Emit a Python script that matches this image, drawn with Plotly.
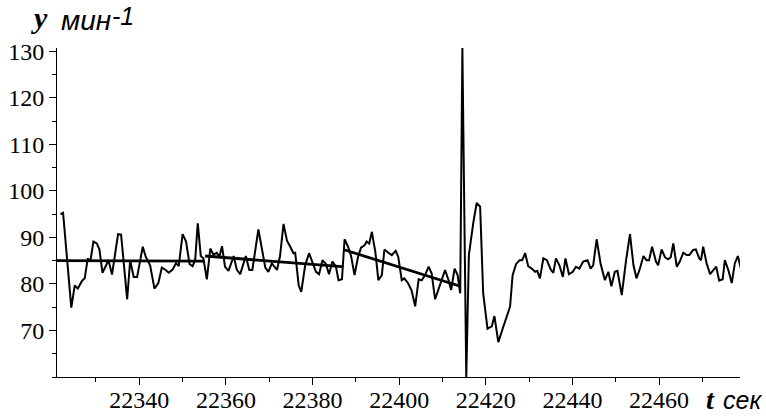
import plotly.graph_objects as go

# ---- data ----
t_sec = [
    22321.8, 22322.4, 22324.3, 22325.1, 22325.8, 22326.8, 22327.4, 22328.1, 22328.7, 22329.4,
    22330.2, 22330.8, 22331.5, 22332.1, 22332.9, 22333.7, 22334.5, 22335.1, 22335.8, 22336.4,
    22337.2, 22337.9, 22338.7, 22339.5, 22340.8, 22341.5, 22342.5, 22343.5, 22344.4, 22345.2,
    22346.1, 22346.8, 22347.7, 22348.5, 22349.1, 22350.0, 22350.8, 22351.6, 22352.3, 22352.9,
    22353.5, 22354.2, 22354.8, 22355.6, 22356.4, 22357.1, 22357.9, 22358.5, 22359.1,
    22359.8, 22360.6, 22361.8, 22362.5, 22363.3, 22364.6, 22365.4, 22366.1, 22367.5, 22368.3,
    22369.1, 22369.8, 22370.6, 22371.8, 22372.5, 22373.3, 22374.1, 22374.8, 22375.6, 22376.0,
    22376.8, 22377.4, 22378.3, 22379.2, 22380.0, 22380.8, 22381.5, 22382.3, 22383.1, 22383.8,
    22384.6, 22385.4, 22386.0, 22386.8, 22387.4, 22388.2, 22388.9, 22389.7, 22390.5, 22391.2,
    22392.0, 22392.5, 22393.1, 22393.7, 22394.5, 22395.2, 22396.0, 22396.6, 22397.5, 22398.3,
    22399.2,
    22399.8, 22400.6, 22401.2, 22402.1, 22402.9, 22403.7, 22404.5, 22405.2, 22406.0, 22406.8,
    22407.5, 22408.3, 22409.1, 22409.9, 22410.6, 22411.4, 22412.0, 22412.8, 22413.5, 22414.1,
    22414.6, 22415.5, 22416.1, 22417.1, 22417.9, 22418.7, 22419.4, 22420.4, 22421.4, 22422.0,
    22422.9, 22423.8, 22424.9, 22425.6, 22426.2,
    22427.0, 22427.8, 22428.4, 22429.1, 22429.8, 22430.6, 22431.4, 22431.9, 22432.5, 22433.3,
    22434.1, 22435.0, 22435.6, 22436.2, 22437.0, 22437.8, 22438.4, 22439.2, 22440.1, 22440.8,
    22441.6, 22442.5, 22443.5, 22444.2, 22444.8, 22445.6, 22446.5, 22447.5, 22448.3, 22449.0,
    22449.8, 22450.4, 22451.4, 22452.4, 22453.3, 22454.1, 22454.8, 22455.6, 22456.4, 22457.1,
    22457.7, 22458.4, 22459.3, 22459.8, 22460.6, 22461.4, 22462.1, 22462.7, 22463.3, 22464.1,
    22464.8, 22465.6, 22466.4, 22467.0, 22467.9, 22468.5, 22469.3, 22469.7, 22470.2, 22471.0,
    22471.8, 22472.6, 22473.2, 22473.9, 22474.7, 22475.2, 22476.0, 22476.8, 22477.5, 22478.2,
    22478.9,
]
hr_per_min = [
    95.0, 95.3, 74.9, 79.7, 79.0, 80.7, 81.2, 85.5, 84.8, 89.1,
    88.7, 87.4, 82.4, 83.7, 85.1, 82.0, 87.3, 90.7, 90.6, 84.8,
    76.7, 85.1, 81.5, 81.5, 88.0, 85.8, 84.0, 79.0, 80.2, 83.5,
    83.0, 82.4, 83.1, 84.5, 83.8, 90.7, 89.1, 84.3, 83.8, 85.1,
    93.0, 86.0, 85.5, 81.0, 87.6, 86.3, 86.7, 85.8, 88.1,
    83.7, 82.8, 86.0, 83.1, 82.1, 86.0, 83.0, 83.0, 91.7, 88.0,
    83.5, 82.6, 84.4, 83.0, 86.0, 92.9, 89.3, 88.1, 86.6, 86.7,
    79.7, 78.3, 84.0, 86.6, 84.4, 82.6, 82.1, 85.1, 84.3, 82.1,
    84.8, 83.7, 80.8, 81.0, 89.6, 88.0, 86.0, 81.9, 85.8, 87.8,
    88.3, 89.1, 88.7, 91.2, 86.9, 80.8, 81.9, 87.4, 86.7, 86.2,
    87.1,
    85.8, 80.8, 81.2, 80.1, 78.5, 75.2, 81.0, 80.8, 81.9, 83.7,
    82.3, 76.7, 79.0, 81.5, 83.0, 80.8, 78.7, 83.3, 81.9, 78.0,
    130.7, 60.0, 86.2, 93.0, 97.4, 96.6, 78.0, 70.4, 70.9, 73.1,
    67.5, 70.1, 72.9, 75.1, 81.9,
    84.3, 85.1, 85.1, 86.6, 83.8, 83.3, 82.6, 82.8, 81.2, 85.5,
    85.1, 83.1, 82.4, 85.5, 84.0, 81.5, 85.5, 82.1, 82.6, 83.7,
    83.3, 84.8, 85.1, 83.3, 84.0, 89.6, 84.4, 80.8, 82.6, 79.5,
    82.6, 82.8, 77.6, 85.1, 90.7, 84.0, 81.2, 83.3, 86.0, 85.1,
    85.1, 88.0, 84.8, 84.0, 87.4, 85.7, 85.3, 85.7, 88.7, 83.7,
    84.8, 86.7, 86.2, 86.2, 87.3, 87.4, 85.5, 85.1, 88.0, 84.4,
    82.1, 83.0, 83.7, 80.7, 81.0, 85.1, 83.0, 80.2, 84.4, 86.0,
    83.3,
]

trend1_t = [22321.0, 22354.8]
trend1_v = [85.0, 84.9]
trend2_t = [22355.2, 22386.8]
trend2_v = [86.0, 83.7]
trend3_t = [22387.1, 22414.1]
trend3_v = [87.4, 79.5]

x_ticks = [22340, 22360, 22380, 22400, 22420, 22440, 22460]
y_ticks = [70, 80, 90, 100, 110, 120, 130]

SERIF = "Liberation Serif"
SANS = "Liberation Sans"

W, H = 766, 418
ML, MR, MT, MB = 57, 26, 48, 41

fig = go.Figure()
fig.add_trace(go.Scatter(x=t_sec, y=hr_per_min, mode="lines",
                         line=dict(color="black", width=2), showlegend=False))
for tx, tv in [(trend1_t, trend1_v), (trend2_t, trend2_v), (trend3_t, trend3_v)]:
    fig.add_trace(go.Scatter(x=tx, y=tv, mode="lines",
                             line=dict(color="black", width=2.8), showlegend=False))

axis_font = dict(family=SERIF, size=24, color="black")

fig.update_layout(
    width=W, height=H,
    margin=dict(l=ML, r=MR, t=MT, b=MB, autoexpand=False),
    paper_bgcolor="white", plot_bgcolor="white",
    font=dict(family=SERIF, color="black"),
    xaxis=dict(range=[22321, 22478.7], showgrid=False, zeroline=False, automargin=False,
               showline=True, linecolor="black", linewidth=1,
               ticks="outside", ticklen=7, tickcolor="black", tickwidth=1,
               tickmode="array", tickvals=x_ticks, ticktext=[str(v) for v in x_ticks],
               tickfont=axis_font, ticklabelstandoff=-6,
               minor=dict(ticks="outside", dtick=10, tick0=22330, ticklen=4,
                          tickcolor="black", showgrid=False)),
    yaxis=dict(range=[60, 130.7], showgrid=False, zeroline=False, automargin=False,
               showline=True, linecolor="black", linewidth=1,
               ticks="outside", ticklen=7, tickcolor="black", tickwidth=1,
               tickmode="array", tickvals=y_ticks, ticktext=[str(v) for v in y_ticks],
               tickfont=axis_font,
               minor=dict(ticks="outside", dtick=5, tick0=60, ticklen=4,
                          tickcolor="black", showgrid=False)),
)

def px_ann(text, px, py, font, xanchor="left", yanchor="middle"):
    # px, py are pixel positions in the 766x418 window
    fig.add_annotation(text=text, xref="paper", yref="paper",
                       x=(px - ML) / (W - ML - MR), y=1 - (py - MT) / (H - MT - MB),
                       xanchor=xanchor, yanchor=yanchor, showarrow=False, font=font)

px_ann("<b><i>y</i></b>", 29, 18, dict(family=SERIF, size=30, color="black"))
px_ann("<i>мин</i>", 59, 21, dict(family=SANS, size=28, color="black"))
px_ann("<i>-1</i>", 110, 0, dict(family=SANS, size=25, color="black"), yanchor="top")
px_ann("<b><i>t</i></b>", 704, 399, dict(family=SERIF, size=28, color="black"))
px_ann("<i>сек</i>", 721, 400, dict(family=SANS, size=25, color="black"))

# let the figure sit at the very top-left of the page
fig.write_html("out.html", config={"displayModeBar": False},
               post_script="document.body.style.margin='0';")
